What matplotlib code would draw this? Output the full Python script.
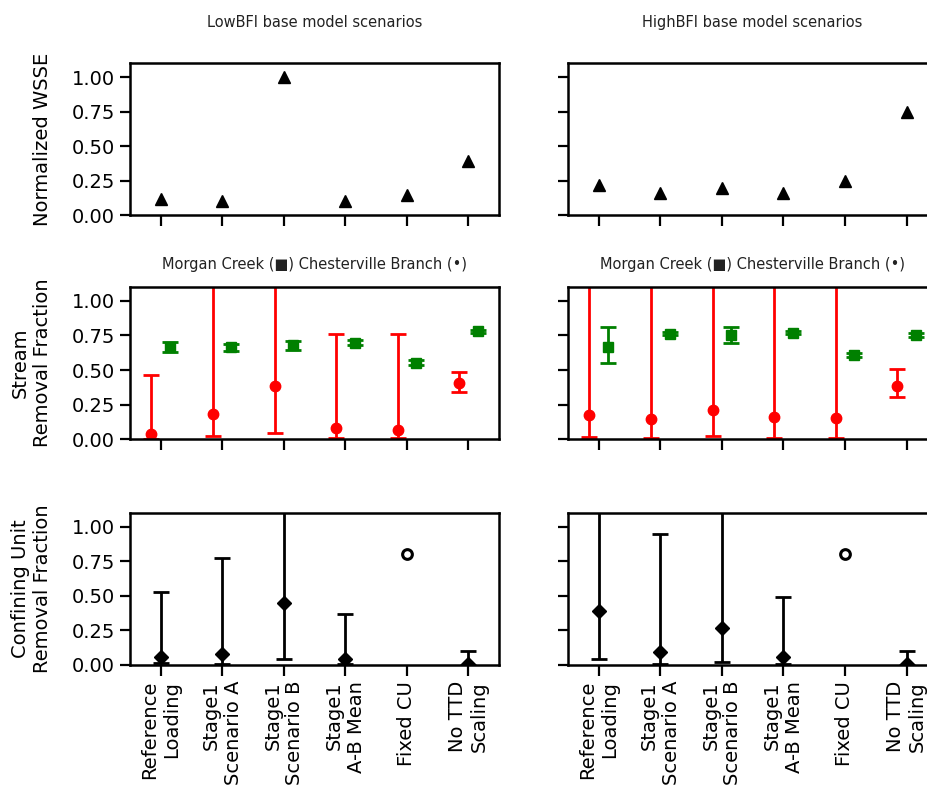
import matplotlib
matplotlib.use("Agg")
import matplotlib.pyplot as plt
import numpy as np

# scenario labels (x axis)
scenarios = ["Reference\nLoading", "Stage1\nScenario A", "Stage1\nScenario B",
             "Stage1\nA-B Mean", "Fixed CU", "No TTD\nScaling"]

# normalized WSSE
wsse_low = [0.12, 0.10, 1.00, 0.10, 0.145, 0.395]
wsse_high = [0.22, 0.16, 0.20, 0.16, 0.25, 0.745]

# stream removal fraction, Chesterville Branch (red) -- upper ends past 1.1 run off the axis
ches_low = [0.036, 0.185, 0.387, 0.083, 0.066, 0.406]
ches_low_lo = [0.0, 0.024, 0.042, 0.005, 0.005, 0.343]
ches_low_hi = [0.465, 1.25, 1.25, 0.76, 0.76, 0.487]
ches_high = [0.175, 0.144, 0.207, 0.163, 0.151, 0.387]
ches_high_lo = [0.017, 0.005, 0.024, 0.005, 0.005, 0.304]
ches_high_hi = [1.25, 1.25, 1.25, 1.25, 1.25, 0.504]

# stream removal fraction, Morgan Creek (green)
morg_low = [0.665, 0.666, 0.678, 0.696, 0.553, 0.779]
morg_low_lo = [0.628, 0.641, 0.648, 0.678, 0.535, 0.766]
morg_low_hi = [0.700, 0.691, 0.708, 0.714, 0.571, 0.792]
morg_high = [0.669, 0.764, 0.750, 0.771, 0.606, 0.754]
morg_high_lo = [0.553, 0.750, 0.696, 0.757, 0.592, 0.740]
morg_high_hi = [0.808, 0.778, 0.808, 0.785, 0.620, 0.768]

# confining unit removal fraction (index 4 = fixed value, no range)
cu_low = [0.06, 0.08, 0.446, 0.041, 0.80, 0.005]
cu_low_lo = [0.012, 0.01, 0.043, 0.005, 0.80, 0.0]
cu_low_hi = [0.526, 0.776, 1.25, 0.367, 0.80, 0.101]
cu_high = [0.393, 0.092, 0.27, 0.056, 0.80, 0.01]
cu_high_lo = [0.046, 0.005, 0.024, 0.005, 0.80, 0.0]
cu_high_hi = [1.25, 0.95, 1.25, 0.49, 0.80, 0.10]

plt.rcParams.update({
    "font.family": "DejaVu Sans",
    "font.size": 14,
    "axes.linewidth": 1.8,
    "xtick.major.size": 8,
    "ytick.major.size": 7.5,
    "xtick.major.width": 1.6,
    "ytick.major.width": 1.6,
})

fig = plt.figure(figsize=(9.28, 7.94), dpi=100)
lefts = [0.140, 0.612]
bottoms = [0.729, 0.447, 0.1625]
w, h = 0.398, 0.1914
axes = [[fig.add_axes([l, b, w, h]) for l in lefts] for b in bottoms]

x = np.arange(len(scenarios))
off = 0.15
ebkw = dict(elinewidth=2, capsize=5.5, capthick=2)


def err(v, lo, hi):
    v, lo, hi = map(np.asarray, (v, lo, hi))
    return [v - lo, hi - v]


# row 1: WSSE
for ax, vals in zip(axes[0], [wsse_low, wsse_high]):
    ax.plot(x, vals, "^", color="black", ms=9, ls="none")

# row 2: stream removal
for ax, c, clo, chi, m, mlo, mhi in zip(
        axes[1],
        [ches_low, ches_high], [ches_low_lo, ches_high_lo], [ches_low_hi, ches_high_hi],
        [morg_low, morg_high], [morg_low_lo, morg_high_lo], [morg_low_hi, morg_high_hi]):
    ax.errorbar(x - off, c, yerr=err(c, clo, chi), fmt="o", color="red", ms=7.5, **ebkw)
    ax.errorbar(x + off, m, yerr=err(m, mlo, mhi), fmt="s", color="green", ms=6.5, **ebkw)

# row 3: confining unit removal
for ax, v, lo, hi in zip(axes[2], [cu_low, cu_high], [cu_low_lo, cu_high_lo],
                         [cu_low_hi, cu_high_hi]):
    idx = [i for i in range(len(v)) if i != 4]
    vv = np.array(v)[idx]
    ax.errorbar(x[idx], vv, yerr=err(vv, np.array(lo)[idx], np.array(hi)[idx]),
                fmt="D", color="black", ms=7, **ebkw)
    ax.plot(x[4], v[4], "o", mfc="white", mec="black", mew=2.2, ms=7)

for r, row in enumerate(axes):
    for c, ax in enumerate(row):
        ax.set_xlim(-0.5, 5.5)
        ax.set_ylim(0, 1.1)
        ax.set_yticks([0, 0.25, 0.5, 0.75, 1.0])
        ax.set_xticks(x)
        if r == 2:
            ax.set_xticklabels(scenarios, rotation=90, multialignment="right")
        else:
            ax.set_xticklabels([])
        if c == 1:
            ax.tick_params(labelleft=False)
        else:
            ax.set_yticklabels(["0.00", "0.25", "0.50", "0.75", "1.00"])

axes[0][0].set_ylabel("Normalized WSSE", labelpad=14)
axes[1][0].set_ylabel("Stream\nRemoval Fraction", labelpad=14)
axes[2][0].set_ylabel("Confining Unit\nRemoval Fraction", labelpad=14)

tcol = "#222222"
axes[0][0].set_title("LowBFI base model scenarios", fontsize=10.5, pad=26, color=tcol)
axes[0][1].set_title("HighBFI base model scenarios", fontsize=10.5, pad=26, color=tcol)
for ax in axes[1]:
    ax.set_title("Morgan Creek (\u25a0) Chesterville Branch (\u2022)", fontsize=10.5,
                 pad=13, color=tcol)

fig.savefig("out.png", dpi=100)
